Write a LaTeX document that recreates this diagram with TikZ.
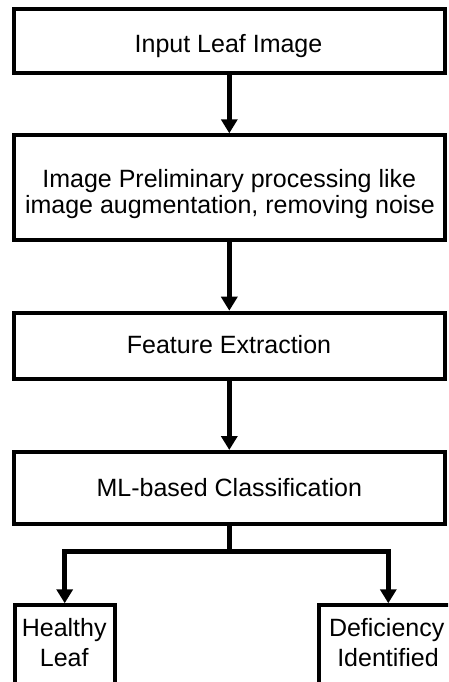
\documentclass[tikz,border=0pt]{standalone}
\usepackage{fontspec}
\setmainfont{Liberation Sans}
\usetikzlibrary{arrows.meta}

\tikzset{
  stepbox/.style={draw=black, line width=4pt, fill=white, inner sep=0pt,
                  minimum width=#1},
  stepbox/.default=431.3pt,
  txt/.style={anchor=base, inner sep=0pt, font=\fontsize{25}{28}\selectfont},
  flow/.style={line width=4.5pt, -{Triangle[length=14pt, width=16pt]}},
  fork/.style={line width=4.5pt, {Triangle[length=14pt, width=16pt]}-{Triangle[length=14pt, width=16pt]}},
}

\begin{document}
\begin{tikzpicture}[x=1pt, y=-1pt]
  \useasboundingbox (0,0) rectangle (448,682);
  \fill[white] (0,0) rectangle (448,682);
  \clip (0,0) rectangle (448,682);

  % processing stages
  \node[stepbox, minimum height=63.7pt] (input) at (229.3,41.2) {};
  \node[stepbox, minimum height=105pt]  (prep)  at (229.3,187.8) {};
  \node[stepbox, minimum height=66pt]   (feat)  at (229.3,345.7) {};
  \node[stepbox, minimum height=72pt]   (cls)   at (229.3,488) {};

  % outcomes (run past the lower edge)
  \node[stepbox=100pt,   minimum height=114.7pt] (healthy) at (64.7,662.6) {};
  \node[stepbox=139.3pt, minimum height=114.7pt] (defic)   at (388.3,662.6) {};

  % labels
  \node[txt] (tinput) at (228.5,52.5) {Input Leaf Image};
  \node[txt] (tprep1) at (229.3,187) {Image Preliminary processing like};
  \node[txt] (tprep2) at (230,213.5) {image augmentation, removing noise};
  \node[txt] (tfeat)  at (229,353.3) {Feature Extraction};
  \node[txt] (tcls)   at (229.3,496) {ML-based Classification};
  \node[txt] (th1) at (64.2,636.7) {Healthy};
  \node[txt] (th2) at (64.2,666.7) {Leaf};
  \node[txt] (td1) at (386.7,636.7) {Deficiency};
  \node[txt] (td2) at (388,666.7) {Identified};

  % connectors
  \draw[flow] (input.south) -- (prep.north);
  \draw[flow] (prep.south) -- (feat.north);
  \draw[flow] (feat.south) -- (cls.north);

  \coordinate (split) at (229.3,551.7);
  \draw[line width=4.5pt] (cls.south) -- (split);
  \draw[fork] (healthy.north) |- (split) -| (defic.north);
\end{tikzpicture}
\end{document}
